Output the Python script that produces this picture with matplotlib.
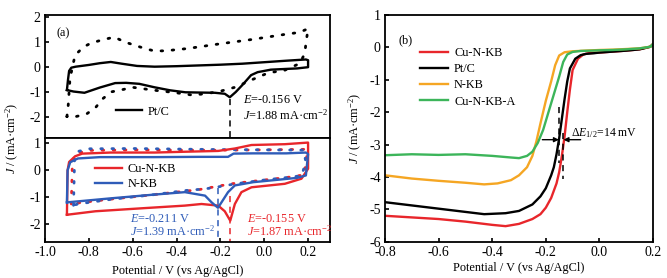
import matplotlib
matplotlib.use("Agg")
import matplotlib.pyplot as plt

plt.rcParams['font.family'] = ['Liberation Serif', 'DejaVu Serif']
plt.rcParams['mathtext.fontset'] = 'custom'
plt.rcParams['mathtext.rm'] = 'Liberation Serif'
plt.rcParams['mathtext.it'] = 'Liberation Serif:italic'
plt.rcParams['axes.unicode_minus'] = False
plt.rcParams['font.size'] = 8.8

# ── (a) top: Pt/C CV ───────────────────────────────────────
ptc_x = [-0.90, -0.895, -0.89, -0.88, -0.86, -0.80, -0.75, -0.70, -0.65, -0.58, -0.50,
         -0.40, -0.30, -0.20, -0.10, 0.00, 0.10, 0.19, 0.20, 0.20,
         0.15, 0.10, 0.03, -0.03, -0.06, -0.10, -0.13, -0.157, -0.18, -0.225, -0.30,
         -0.36, -0.43, -0.50, -0.57, -0.63, -0.68, -0.75, -0.82, -0.87, -0.90]
ptc_y = [-0.92, -0.5, -0.15, -0.02, 0.02, 0.09, 0.16, 0.21, 0.14, 0.05, 0.02,
         0.04, 0.07, 0.10, 0.14, 0.20, 0.26, 0.31, 0.28, 0.00,
         -0.05, -0.07, -0.10, -0.20, -0.32, -0.72, -1.0, -1.21, -1.07, -1.03, -1.02,
         -1.01, -0.93, -0.81, -0.67, -0.63, -0.64, -0.82, -1.03, -0.98, -0.92]

ptc_dot_x = [-0.90, -0.894, -0.886, -0.863, -0.825, -0.79, -0.734, -0.684, -0.635, -0.59,
             -0.544, -0.50, -0.45, -0.35, -0.21, -0.06, 0.094, 0.16, 0.20,
             0.19, 0.185, 0.162, 0.094, 0.018, -0.06, -0.13, -0.21, -0.28, -0.33, -0.385,
             -0.44, -0.50, -0.60, -0.66, -0.696, -0.734, -0.77, -0.81, -0.86, -0.90]
ptc_dot_y = [-1.99, -1.52, -0.45, 0.48, 0.81, 0.97, 1.11, 1.21, 1.01, 0.88,
             0.75, 0.65, 0.66, 0.75, 0.93, 1.11, 1.32, 1.40, 1.55,
             0.95, 0.55, 0.15, -0.12, -0.23, -0.52, -0.80, -0.99, -1.08, -1.12, -1.05,
             -0.99, -0.93, -0.81, -0.93, -0.99, -1.25, -1.63, -1.88, -1.99, -1.99]

# ── (a) bottom: Cu-N-KB and N-KB CVs ──────────────────────
cu_x = [-0.90, -0.897, -0.89, -0.863, -0.83, -0.70, -0.50, -0.362, -0.21, -0.134, -0.058,
        0.094, 0.20, 0.20, 0.17, 0.094, -0.058, -0.104, -0.134, -0.155, -0.18, -0.21,
        -0.286, -0.362, -0.54, -0.77, -0.90]
cu_y = [-1.65, 0.0, 0.31, 0.52, 0.62, 0.66, 0.66, 0.69, 0.72, 0.81, 0.94,
        0.97, 1.03, 0.06, -0.31, -0.50, -0.63, -0.81, -1.25, -1.87, -1.52, -1.31,
        -1.25, -1.31, -1.40, -1.52, -1.65]

nkb_x = [-0.90, -0.897, -0.885, -0.85, -0.75, -0.50, -0.30, -0.165, -0.14, -0.05,
         0.10, 0.19, 0.20, 0.19, 0.15, 0.05, -0.05, -0.134, -0.165, -0.195, -0.211,
         -0.24, -0.27, -0.362, -0.50, -0.70, -0.90]
nkb_y = [-1.19, 0.0, 0.30, 0.44, 0.49, 0.49, 0.50, 0.50, 0.62, 0.63,
         0.63, 0.66, 0.60, -0.19, -0.28, -0.36, -0.44, -0.56, -0.81, -1.19, -1.39,
         -1.19, -0.94, -0.81, -0.90, -1.04, -1.19]

cu_dot_x = [-0.88, -0.875, -0.86, -0.80, -0.60, -0.40, -0.20, 0.00, 0.19, 0.195,
            0.18, 0.10, 0.00, -0.15, -0.30, -0.50, -0.70, -0.86, -0.88]
cu_dot_y = [-1.25, 0.30, 0.62, 0.74, 0.76, 0.75, 0.75, 0.76, 0.78, 0.40,
            -0.17, -0.27, -0.36, -0.50, -0.72, -0.90, -1.07, -1.22, -1.25]

nkb_dot_x = [-0.87, -0.865, -0.85, -0.80, -0.60, -0.40, -0.20, 0.00, 0.18, 0.19,
             0.17, 0.10, 0.00, -0.13, -0.20, -0.27, -0.36, -0.50, -0.70, -0.85, -0.87]
nkb_dot_y = [-1.30, 0.40, 0.70, 0.80, 0.81, 0.79, 0.77, 0.76, 0.75, 0.30,
             -0.20, -0.27, -0.36, -0.50, -0.60, -0.69, -0.75, -0.90, -1.08, -1.25, -1.30]

# ── (b) LSV curves ─────────────────────────────────────────
lsv_cu_x = [-0.8, -0.7, -0.6, -0.5, -0.4, -0.35, -0.3, -0.25, -0.22, -0.2, -0.18, -0.16,
            -0.15, -0.14, -0.13, -0.12, -0.11, -0.10, -0.08, -0.06, -0.04, -0.02, 0.0,
            0.05, 0.1, 0.15, 0.19, 0.2]
lsv_cu_y = [-5.2, -5.25, -5.3, -5.38, -5.48, -5.52, -5.45, -5.3, -5.15, -4.95, -4.65, -4.2,
            -3.85, -3.35, -2.75, -2.0, -1.3, -0.7, -0.35, -0.22, -0.18, -0.17, -0.16,
            -0.13, -0.1, -0.06, 0.02, 0.1]

lsv_pt_x = [-0.8, -0.7, -0.6, -0.5, -0.43, -0.35, -0.3, -0.25, -0.22, -0.2, -0.18, -0.17,
            -0.16, -0.15, -0.14, -0.13, -0.12, -0.11, -0.09, -0.07, -0.05, -0.02, 0.0,
            0.05, 0.1, 0.15, 0.19, 0.2]
lsv_pt_y = [-4.78, -4.88, -4.98, -5.08, -5.15, -5.12, -5.05, -4.85, -4.6, -4.35, -3.95, -3.7,
            -3.3, -2.8, -2.2, -1.6, -1.05, -0.65, -0.35, -0.24, -0.2, -0.18, -0.16,
            -0.13, -0.1, -0.06, 0.02, 0.1]

lsv_nkb_x = [-0.8, -0.75, -0.7, -0.6, -0.5, -0.43, -0.38, -0.33, -0.3, -0.27, -0.25, -0.235,
             -0.22, -0.2, -0.18, -0.165, -0.15, -0.13, -0.1, -0.05, 0.0, 0.05, 0.1, 0.15,
             0.19, 0.2]
lsv_nkb_y = [-3.95, -4.0, -4.05, -4.12, -4.18, -4.23, -4.2, -4.1, -3.95, -3.7, -3.35, -2.9,
             -2.35, -1.65, -1.05, -0.55, -0.25, -0.15, -0.12, -0.1, -0.08, -0.07, -0.05, -0.03,
             0.02, 0.1]

lsv_cua_x = [-0.8, -0.7, -0.6, -0.5, -0.4, -0.33, -0.3, -0.27, -0.25, -0.23, -0.21, -0.19,
             -0.17, -0.15, -0.135, -0.12, -0.1, -0.07, -0.03, 0.0, 0.05, 0.1, 0.15, 0.19, 0.2]
lsv_cua_y = [-3.33, -3.3, -3.32, -3.3, -3.35, -3.4, -3.42, -3.35, -3.22, -2.95, -2.55, -2.0,
             -1.45, -0.9, -0.45, -0.22, -0.14, -0.11, -0.1, -0.09, -0.08, -0.06, -0.03, 0.02, 0.1]

RED = '#e8262b'
BLUE = '#2f5cb8'
ORANGE = '#f5a623'
GREEN = '#3cb55a'
DOT = (0, (0.6, 3.4))
DASH = (0, (4, 3))
TICK_FS = 10
TXT_FS = 8.8

fig = plt.figure(figsize=(6.67, 2.78), dpi=100)
W, H = 667, 278

def box(l, t, r, b):
    return [l / W, 1 - b / H, (r - l) / W, (b - t) / H]

ax_top = fig.add_axes(box(45, 15, 330, 138))
ax_bot = fig.add_axes(box(45, 138, 330, 241.7))
ax_b = fig.add_axes(box(385, 15, 653, 241.7))

for ax in (ax_top, ax_bot, ax_b):
    for s in ax.spines.values():
        s.set_linewidth(1.3)
    ax.tick_params(direction='in', length=3, width=1.2, labelsize=TICK_FS, pad=3)

# top panel
ax_top.plot(ptc_dot_x, ptc_dot_y, color='k', lw=2.0, linestyle=DOT, dash_capstyle='round')
ax_top.plot(ptc_x, ptc_y, color='k', lw=1.7, label='Pt/C')
ax_top.plot([-0.156, -0.156], [-1.3, -2.85], color='k', lw=1.1, linestyle=DASH)
ax_top.set_xlim(-1.0, 0.3)
ax_top.set_ylim(-2.85, 2.1)
ax_top.set_yticks([-2, -1, 0, 1, 2])
ax_top.set_xticks([])
ax_top.text(0.04, 0.83, '(a)', transform=ax_top.transAxes, fontsize=TXT_FS)
ax_top.text(-0.098, -1.32, '$E$=-0.156 V', va='center')
ax_top.text(-0.098, -1.92, '$J$=1.88 mA·cm$^{-2}$', va='center')
ax_top.legend(loc='center left', bbox_to_anchor=(0.25, 0.215), frameon=False,
              handlelength=2.1, handletextpad=0.5, borderpad=0, borderaxespad=0)

# bottom panel
ax_bot.plot(cu_dot_x, cu_dot_y, color=RED, lw=2.0, linestyle=DOT, dash_capstyle='round')
ax_bot.plot(nkb_dot_x, nkb_dot_y, color=BLUE, lw=2.0, linestyle=DOT, dash_capstyle='round')
ax_bot.plot(cu_x, cu_y, color=RED, lw=1.7, label='Cu-N-KB')
ax_bot.plot(nkb_x, nkb_y, color=BLUE, lw=1.7, label='N-KB')
ax_bot.plot([-0.211, -0.211], [-0.65, -2.65], color=BLUE, lw=1.1, linestyle=DASH)
ax_bot.plot([-0.155, -0.155], [-0.95, -2.65], color=RED, lw=1.1, linestyle=DASH)
ax_bot.set_xlim(-1.0, 0.3)
ax_bot.set_ylim(-2.65, 1.2)
ax_bot.set_yticks([-2, -1, 0, 1])
ax_bot.set_xticks([-1.0, -0.8, -0.6, -0.4, -0.2, 0.0, 0.2])
ax_bot.set_xticklabels(['-1.0', '-0.8', '-0.6', '-0.4', '-0.2', '0.0', '0.2'])
ax_bot.text(-0.61, -1.79, '$E$=-0.211 V', color=BLUE, va='center')
ax_bot.text(-0.61, -2.25, '$J$=1.39 mA·cm$^{-2}$', color=BLUE, va='center')
ax_bot.text(-0.08, -1.79, '$E$=-0.155 V', color=RED, va='center')
ax_bot.text(-0.08, -2.25, '$J$=1.87 mA·cm$^{-2}$', color=RED, va='center')
ax_bot.legend(loc='center left', bbox_to_anchor=(0.175, 0.625), frameon=False,
              handlelength=2.2, handletextpad=0.5, labelspacing=0.25,
              borderpad=0, borderaxespad=0)
ax_bot.set_xlabel('Potential / V (vs Ag/AgCl)', fontsize=TXT_FS, labelpad=2)
ax_bot.xaxis.set_label_coords((178 - 45) / 285, -0.22)

fig.text(12 / W, 1 - 138 / H, '$J$ / (mA·cm$^{-2}$)', rotation=90,
         ha='center', va='center', fontsize=TXT_FS)

# right panel
ax_b.plot(lsv_cu_x, lsv_cu_y, color=RED, lw=1.7, label='Cu-N-KB')
ax_b.plot(lsv_pt_x, lsv_pt_y, color='k', lw=1.7, label='Pt/C')
ax_b.plot(lsv_nkb_x, lsv_nkb_y, color=ORANGE, lw=1.7, label='N-KB')
ax_b.plot(lsv_cua_x, lsv_cua_y, color=GREEN, lw=1.7, label='Cu-N-KB-A')
ax_b.plot([-0.150, -0.150], [-1.84, -3.58], color='k', lw=1.1, linestyle=DASH)
ax_b.plot([-0.135, -0.135], [-2.65, -4.05], color='k', lw=1.1, linestyle=DASH)
arrow = dict(arrowstyle='-|>', color='k', lw=1.0, mutation_scale=7, shrinkA=0, shrinkB=0)
ax_b.annotate('', xy=(-0.151, -2.85), xytext=(-0.213, -2.85), arrowprops=arrow)
ax_b.annotate('', xy=(-0.134, -2.85), xytext=(-0.07, -2.85), arrowprops=arrow)
ax_b.text(-0.106, -2.65, r'Δ$E_{1/2}$=14 mV', va='center', fontsize=8.5)
ax_b.set_xlim(-0.8, 0.2)
ax_b.set_ylim(-6, 1)
ax_b.set_xticks([-0.8, -0.6, -0.4, -0.2, 0.0, 0.2])
ax_b.set_xticklabels(['-0.8', '-0.6', '-0.4', '-0.2', '0.0', '0.2'])
ax_b.set_yticks([-6, -5, -4, -3, -2, -1, 0, 1])
ax_b.text(0.05, 0.875, '(b)', transform=ax_b.transAxes, fontsize=TXT_FS)
ax_b.legend(loc='center left', bbox_to_anchor=(0.13, 0.725), frameon=False,
            handlelength=2.3, handletextpad=0.5, labelspacing=0.35,
            borderpad=0, borderaxespad=0)
ax_b.set_xlabel('Potential / V (vs Ag/AgCl)', fontsize=TXT_FS, labelpad=2)
ax_b.set_ylabel('$J$ / (mA·cm$^{-2}$)', fontsize=TXT_FS, labelpad=4)

fig.savefig('out.png', dpi=100)
